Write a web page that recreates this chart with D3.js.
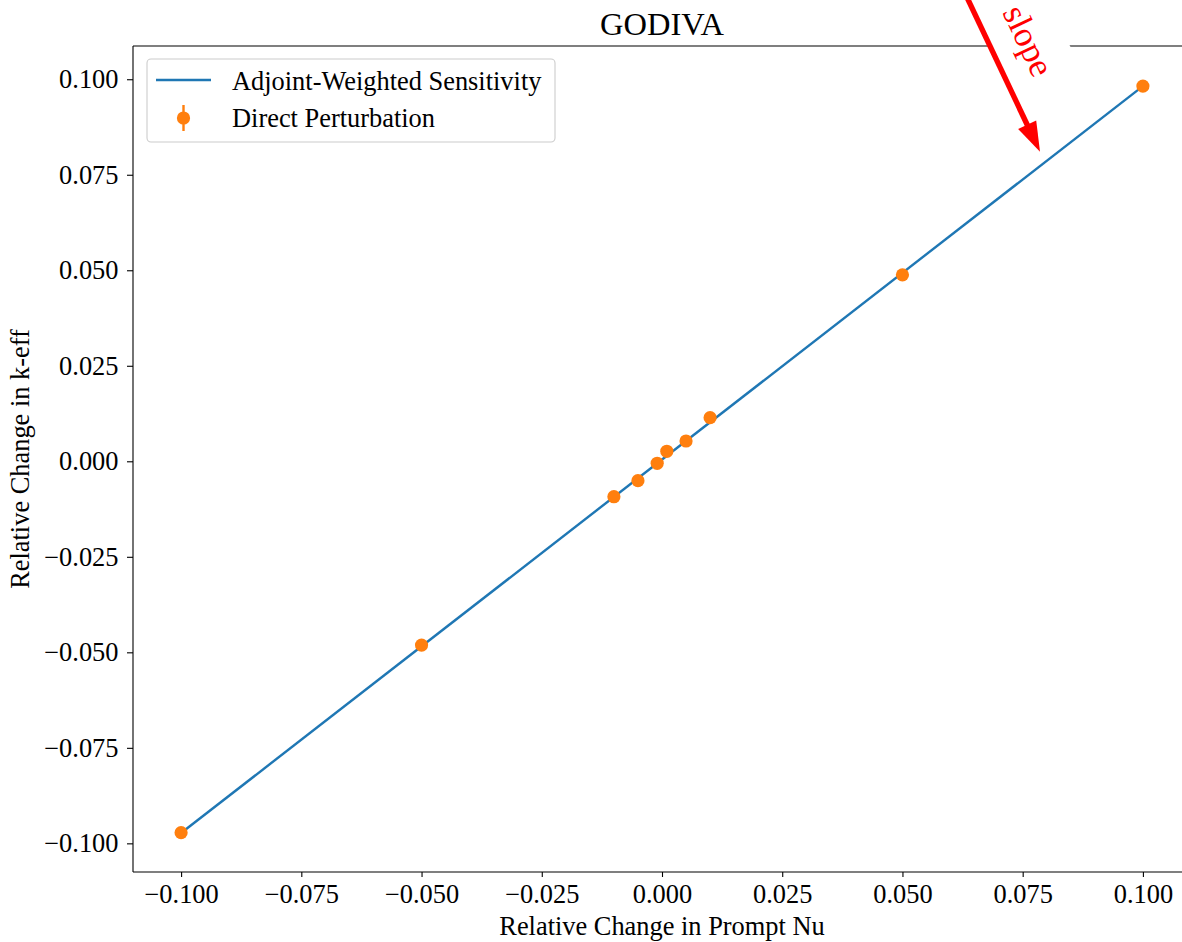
<!DOCTYPE html>
<html>
<head>
<meta charset="utf-8">
<script src="https://cdn.jsdelivr.net/npm/d3@7"></script>
<style>
  html, body { margin: 0; padding: 0; background: #ffffff; }
  svg { display: block; }
  text { font-family: "Liberation Serif", "Times New Roman", Times, serif; }
</style>
</head>
<body>
<svg id="chart" width="1182" height="942"></svg>
<script>
// Relative perturbation applied to prompt nu
const perturbation = [-0.1, -0.05, -0.01, -0.005, -0.001, 0.001, 0.005, 0.01, 0.05, 0.1];
// Relative change in k-eff from direct perturbation calculations
const directChange = [-0.0972, -0.0481, -0.00927, -0.00508, -0.00052, 0.00262, 0.00531, 0.01141, 0.0488, 0.0982];
// Adjoint-weighted sensitivity prediction (straight line between the extremes)
const sensitivityX = [-0.1, 0.1];
const sensitivityY = [-0.0973, 0.0982];
// Tick values
const xTicks = [-0.1, -0.075, -0.05, -0.025, 0, 0.025, 0.05, 0.075, 0.1];
const yTicks = [-0.1, -0.075, -0.05, -0.025, 0, 0.025, 0.05, 0.075, 0.1];
// Annotation: tail and head of the arrow, and the label anchor (data units)
const arrowTail = [0.0620, 0.1252];
const arrowTip = [0.0786, 0.0810];
const slopeLabelAt = [0.0740, 0.1088];

const plot = { left: 133, right: 1191, top: 46, bottom: 872 };
const BLUE = "#1f77b4", ORANGE = "#ff7f0e";
const FS = "26.4px";

const svg = d3.select("#chart");

const x = d3.scaleLinear().domain([-0.11, 0.11]).range([plot.left, plot.right]);
const y = d3.scaleLinear().domain([-0.1075, 0.1087]).range([plot.bottom, plot.top]);
const fmt = d3.format(".3f");

// Sensitivity line
svg.append("path")
  .datum(sensitivityX.map((v, i) => [v, sensitivityY[i]]))
  .attr("fill", "none")
  .attr("stroke", BLUE)
  .attr("stroke-width", 2.4)
  .attr("d", d3.line().x(d => x(d[0])).y(d => y(d[1])));

// Direct perturbation points
svg.append("g").selectAll("circle")
  .data(perturbation.map((v, i) => [v, directChange[i]]))
  .join("circle")
  .attr("cx", d => x(d[0]))
  .attr("cy", d => y(d[1]))
  .attr("r", 6.6)
  .attr("fill", ORANGE);

// Axes
const xAxis = svg.append("g")
  .attr("transform", `translate(0,${plot.bottom})`)
  .call(d3.axisBottom(x).tickValues(xTicks).tickFormat(fmt).tickSize(5).tickPadding(7.3));
const yAxis = svg.append("g")
  .attr("transform", `translate(${plot.left},0)`)
  .call(d3.axisLeft(y).tickValues(yTicks).tickFormat(fmt).tickSize(6).tickPadding(8.5));
[xAxis, yAxis].forEach(g => {
  g.select(".domain").remove();
  g.selectAll(".tick line").attr("stroke", "#000").attr("stroke-width", 1.1);
  g.selectAll(".tick text")
    .attr("fill", "#000")
    .style("font-family", "'Liberation Serif', 'Times New Roman', serif")
    .style("font-size", FS);
});

// Spines
const spines = svg.append("g").attr("stroke", "#000").attr("stroke-width", 1.1).attr("fill", "none");
spines.append("line").attr("x1", plot.left).attr("x2", plot.left).attr("y1", plot.top).attr("y2", plot.bottom);
spines.append("line").attr("x1", plot.left).attr("x2", plot.right).attr("y1", plot.bottom).attr("y2", plot.bottom);
spines.append("line").attr("x1", plot.left).attr("x2", plot.right).attr("y1", plot.top).attr("y2", plot.top);
spines.append("line").attr("x1", plot.right).attr("x2", plot.right).attr("y1", plot.top).attr("y2", plot.bottom);

// Title and axis labels
svg.append("text")
  .attr("x", (plot.left + plot.right) / 2).attr("y", 35)
  .attr("text-anchor", "middle").style("font-size", "32.5px")
  .text("GODIVA");
svg.append("text")
  .attr("x", (plot.left + plot.right) / 2).attr("y", 935)
  .attr("text-anchor", "middle").style("font-size", FS)
  .text("Relative Change in Prompt Nu");
svg.append("text")
  .attr("transform", `translate(29,${(plot.top + plot.bottom) / 2}) rotate(-90)`)
  .attr("text-anchor", "middle").style("font-size", FS)
  .text("Relative Change in k-eff");

// Legend
const legend = svg.append("g");
legend.append("rect")
  .attr("x", 147).attr("y", 59).attr("width", 408).attr("height", 83).attr("rx", 4)
  .attr("fill", "#fff").attr("fill-opacity", 0.8)
  .attr("stroke", "#cccccc").attr("stroke-width", 1.1);
legend.append("line")
  .attr("x1", 156).attr("x2", 211).attr("y1", 80).attr("y2", 80)
  .attr("stroke", BLUE).attr("stroke-width", 2.4);
legend.append("text").attr("x", 232).attr("y", 90).style("font-size", FS)
  .text("Adjoint-Weighted Sensitivity");
legend.append("line")
  .attr("x1", 183.5).attr("x2", 183.5).attr("y1", 105).attr("y2", 131)
  .attr("stroke", ORANGE).attr("stroke-width", 2.4);
legend.append("circle").attr("cx", 183.5).attr("cy", 118).attr("r", 6.6).attr("fill", ORANGE);
legend.append("text").attr("x", 232).attr("y", 127).style("font-size", FS)
  .text("Direct Perturbation");

// "slope" annotation with white box and arrow
const ax0 = x(arrowTail[0]), ay0 = y(arrowTail[1]);
const ax1 = x(arrowTip[0]), ay1 = y(arrowTip[1]);
const ang = Math.atan2(ay1 - ay0, ax1 - ax0);
const angDeg = ang * 180 / Math.PI;

const label = svg.append("g")
  .attr("transform", `translate(${x(slopeLabelAt[0])},${y(slopeLabelAt[1])}) rotate(${angDeg})`);
const labelBox = label.append("rect").attr("fill", "#fff");
const labelText = label.append("text")
  .attr("text-anchor", "middle")
  .attr("fill", "red")
  .style("font-size", "35px")
  .text("slope");
const bb = labelText.node().getBBox();
const pad = 16;
labelBox.attr("x", bb.x - pad).attr("y", bb.y - pad)
  .attr("width", bb.width + 2 * pad).attr("height", bb.height + 2 * pad);

const headLen = 30, headHalf = 10;
const ux = Math.cos(ang), uy = Math.sin(ang);
const bx = ax1 - ux * headLen, by = ay1 - uy * headLen;
svg.append("line")
  .attr("x1", ax0).attr("y1", ay0).attr("x2", bx + ux * 2).attr("y2", by + uy * 2)
  .attr("stroke", "red").attr("stroke-width", 5.4);
svg.append("path")
  .attr("fill", "red")
  .attr("d", `M${ax1},${ay1}L${bx - uy * headHalf},${by + ux * headHalf}L${bx + uy * headHalf},${by - ux * headHalf}Z`);
</script>
</body>
</html>
